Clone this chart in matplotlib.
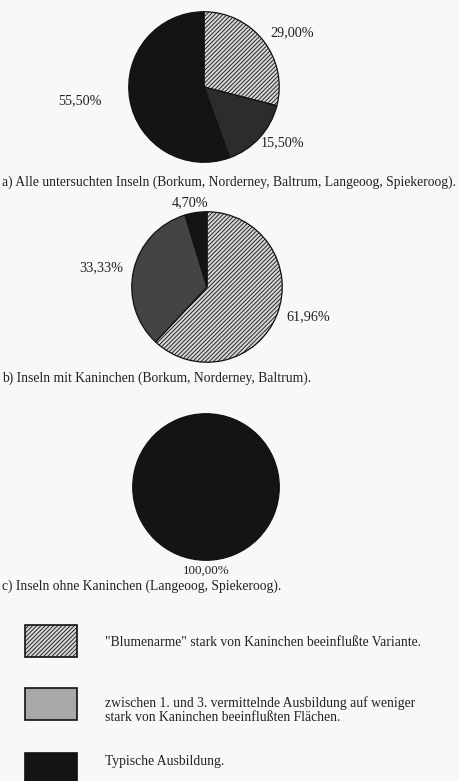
import matplotlib.pyplot as plt
from matplotlib.patches import Rectangle

# data
vals_a = [29.00, 15.50, 55.50]
labels_a = ['29,00%', '15,50%', '55,50%']
vals_b = [61.96, 33.33, 4.70]
labels_b = ['61,96%', '33,33%', '4,70%']
vals_c = [100.0]
labels_c = ['100,00%']
captions = ['a) Alle untersuchten Inseln (Borkum, Norderney, Baltrum, Langeoog, Spiekeroog).',
            'b) Inseln mit Kaninchen (Borkum, Norderney, Baltrum).',
            'c) Inseln ohne Kaninchen (Langeoog, Spiekeroog).']
legend_texts = ['"Blumenarme" stark von Kaninchen beeinflußte Variante.',
                'zwischen 1. und 3. vermittelnde Ausbildung auf weniger\nstark von Kaninchen beeinflußten Flächen.',
                'Typische Ausbildung.']

W, H = 459, 781
plt.rcParams['font.family'] = ['Liberation Serif', 'DejaVu Serif']
plt.rcParams['hatch.linewidth'] = 0.6
bg = '#f8f8f6'
fs_cap = 9.8
fs_lab = 10.2

fig = plt.figure(figsize=(W / 100, H / 100), dpi=100, facecolor=bg)


def px(x, y):
    return x / W, 1 - y / H


def pie_axes(cx, cy, r):
    ax = fig.add_axes([(cx - r) / W, 1 - (cy + r) / H, 2 * r / W, 2 * r / H])
    return ax


def draw_pie(ax, vals, colors, hatches):
    wedges, _ = ax.pie(vals, startangle=90, counterclock=False, colors=colors, radius=1,
                       wedgeprops=dict(edgecolor='#111111', linewidth=0.9))
    for w, h in zip(wedges, hatches):
        if h:
            w.set_hatch(h)
    ax.set_xlim(-1.01, 1.01)
    ax.set_ylim(-1.01, 1.01)
    ax.set_aspect('equal')
    ax.axis('off')


# a)
ax_a = pie_axes(204, 87, 76)
draw_pie(ax_a, vals_a, ['#d4d4d4', '#2c2c2c', '#141414'], ['////////', None, None])
for lab, (x, y) in zip(labels_a, [(292, 33), (283, 143), (80, 101)]):
    fig.text(*px(x, y), lab, ha='center', va='center', fontsize=fs_lab, color='#222')
fig.text(*px(2, 182), captions[0], ha='left', va='center', fontsize=fs_cap, color='#222')

# b)
ax_b = pie_axes(207, 287, 76)
draw_pie(ax_b, vals_b, ['#d4d4d4', '#444444', '#141414'], ['////////', None, None])
for lab, (x, y) in zip(labels_b, [(308, 317), (101, 268), (190, 203)]):
    fig.text(*px(x, y), lab, ha='center', va='center', fontsize=fs_lab, color='#222')
fig.text(*px(2, 378), captions[1], ha='left', va='center', fontsize=fs_cap, color='#222')

# c)
ax_c = pie_axes(206, 487, 74)
draw_pie(ax_c, vals_c, ['#141414'], [None])
fig.text(*px(206, 571), labels_c[0], ha='center', va='center', fontsize=9.4, color='#222')
fig.text(*px(2, 586), captions[2], ha='left', va='center', fontsize=fs_cap, color='#222')

# legend
boxes = [(625, '#d4d4d4', '////////'), (688, '#a8a8a8', None), (753, '#141414', None)]
for (y0, col, h) in boxes:
    fig.patches.append(Rectangle(px(25, y0 + 32), 52 / W, 32 / H, transform=fig.transFigure,
                                 facecolor=col, edgecolor='#111111', linewidth=1.2, hatch=h))
for txt, y in zip(legend_texts, [642, 710, 762]):
    fig.text(*px(105, y), txt, ha='left', va='center', fontsize=fs_cap, color='#222', linespacing=1.1)

plt.savefig('out.png', dpi=100, facecolor=bg)
